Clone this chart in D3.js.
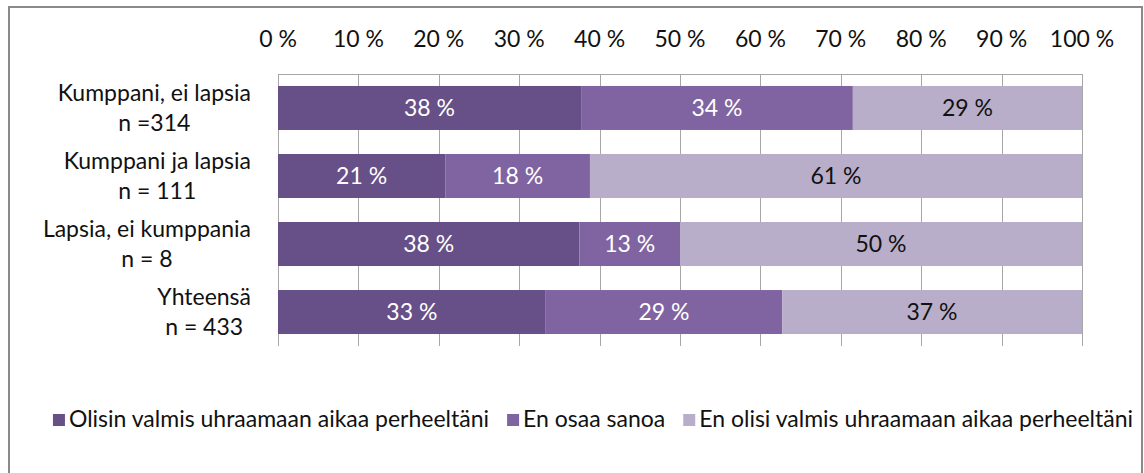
<!DOCTYPE html>
<html>
<head>
<meta charset="utf-8">
<script src="https://cdn.jsdelivr.net/npm/d3@7"></script>
<style>
  body { margin: 0; background: #fff; }
  svg { display: block; }
  text { font-family: Lato, "Open Sans", sans-serif; }
</style>
</head>
<body>
<svg id="chart" width="1144" height="473"></svg>
<script>
(function() {
    'use strict';

    // data
    var categories = [
        ["Kumppani, ei lapsia", "n =314"],
        ["Kumppani ja lapsia", "n = 111"],
        ["Lapsia, ei kumppania", "n = 8"],
        ["Yhteensä", "n = 433"]
    ];
    var seriesNames = [
        "Olisin valmis uhraamaan aikaa perheeltäni",
        "En osaa sanoa",
        "En olisi valmis uhraamaan aikaa perheeltäni"
    ];
    var valmis = [37.7, 20.8, 37.5, 33.3];
    var eiOsaa = [33.8, 18.0, 12.5, 29.4];
    var eiValmis = [28.5, 61.2, 50.0, 37.3];
    var tickValues = [0, 10, 20, 30, 40, 50, 60, 70, 80, 90, 100];

    var colors = ["#674f87", "#8064a2", "#b9aeca"];
    var labelColors = ["#ffffff", "#ffffff", "#111111"];
    var fontSize = 23;

    var svg = d3.select("#chart");

    // outer frame
    svg.append("rect")
        .attr("x", 9).attr("y", 7)
        .attr("width", 1133).attr("height", 490)
        .attr("fill", "none")
        .attr("stroke", "#8a8a8a")
        .attr("stroke-width", 2);

    var plot = {left: 278, right: 1082, top: 74, bottom: 346};

    var x = d3.scaleLinear().domain([0, 100]).range([plot.left, plot.right]);
    var y = d3.scaleBand()
        .domain(d3.range(categories.length))
        .range([plot.top, plot.bottom])
        .paddingInner(0.353)
        .paddingOuter(0.176);

    // gridlines
    var grid = svg.append("g");
    grid.selectAll("line.v").data(tickValues)
        .enter().append("line")
        .attr("x1", function(d) { return Math.round(x(d)) + 0.5; })
        .attr("x2", function(d) { return Math.round(x(d)) + 0.5; })
        .attr("y1", plot.top)
        .attr("y2", plot.bottom)
        .attr("stroke", "#a6a6a6");
    grid.append("line")
        .attr("x1", plot.left).attr("x2", plot.right + 1)
        .attr("y1", plot.top + 0.5).attr("y2", plot.top + 0.5)
        .attr("stroke", "#a6a6a6");

    // top axis labels
    svg.append("g").selectAll("text").data(tickValues)
        .enter().append("text")
        .attr("x", function(d) { return x(d); })
        .attr("y", 47)
        .attr("text-anchor", "middle")
        .attr("font-size", fontSize)
        .attr("fill", "#111")
        .text(function(d) { return d + " %"; });

    // stacked data
    var rows = categories.map(function(c, i) {
        return [valmis[i], eiOsaa[i], eiValmis[i]];
    });
    var segs = [];
    rows.forEach(function(r, i) {
        var acc = 0;
        r.forEach(function(v, k) {
            segs.push({row: i, k: k, x0: acc, x1: acc + v, v: v});
            acc += v;
        });
    });

    var bars = svg.append("g");
    bars.selectAll("rect").data(segs)
        .enter().append("rect")
        .attr("x", function(d) { return x(d.x0); })
        .attr("width", function(d) { return x(d.x1) - x(d.x0); })
        .attr("y", function(d) { return y(d.row); })
        .attr("height", y.bandwidth())
        .attr("fill", function(d) { return colors[d.k]; });

    bars.selectAll("text").data(segs)
        .enter().append("text")
        .attr("x", function(d) { return (x(d.x0) + x(d.x1)) / 2; })
        .attr("y", function(d) { return y(d.row) + y.bandwidth() / 2 + 8; })
        .attr("text-anchor", "middle")
        .attr("font-size", fontSize)
        .attr("fill", function(d) { return labelColors[d.k]; })
        .text(function(d) { return Math.round(d.v) + " %"; });

    // category labels, lines centred in a block aligned right
    var catG = svg.append("g");
    categories.forEach(function(lines, i) {
        var cy = y(i) + y.bandwidth() / 2;
        var g = catG.append("g");
        var texts = g.selectAll("text").data(lines)
            .enter().append("text")
            .attr("y", function(d, j) { return cy - 7 + j * 30; })
            .attr("text-anchor", "middle")
            .attr("font-size", fontSize)
            .attr("fill", "#111")
            .text(function(d) { return d; });
        var maxW = 0;
        texts.each(function() { maxW = Math.max(maxW, this.getComputedTextLength()); });
        texts.attr("x", 251 - maxW / 2);
    });

    // legend
    var legend = svg.append("g");
    var items = legend.selectAll("g").data(seriesNames)
        .enter().append("g");
    items.append("rect")
        .attr("width", 12).attr("height", 12)
        .attr("y", 414)
        .attr("fill", function(d, i) { return colors[i]; });
    items.append("text")
        .attr("x", 16)
        .attr("y", 427)
        .attr("font-size", fontSize)
        .attr("fill", "#111")
        .text(function(d) { return d; });
    var gap = 18, pos = 0, offsets = [];
    items.each(function() {
        offsets.push(pos);
        pos += 16 + this.querySelector("text").getComputedTextLength() + gap;
    });
    var total = pos - gap;
    var startX = 593 - total / 2;
    items.attr("transform", function(d, i) { return "translate(" + (startX + offsets[i]) + ",0)"; });
})();
</script>
</body>
</html>
